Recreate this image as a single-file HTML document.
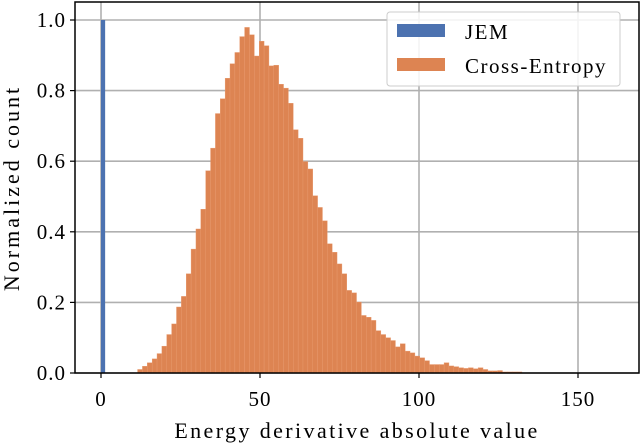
<!DOCTYPE html>
<html><head><meta charset="utf-8"><style>
html,body{margin:0;padding:0;background:#fff}
svg{display:block;font-family:"Liberation Serif",serif}
</style></head><body>
<svg id="chart" width="640" height="443" viewBox="0 0 640 443"></svg>
<script>
// Data
const ceStart = 11.5;
const ceBinWidth = 1.53;
const ceCounts = [0.010,0.019,0.029,0.040,0.055,0.076,0.109,0.139,0.187,0.217,0.281,0.351,0.408,0.464,0.573,0.637,0.735,0.777,0.835,0.876,0.908,0.953,0.979,0.958,0.898,0.940,0.927,0.870,0.872,0.818,0.807,0.764,0.689,0.665,0.599,0.578,0.502,0.469,0.431,0.366,0.342,0.309,0.281,0.234,0.227,0.201,0.163,0.158,0.149,0.120,0.109,0.100,0.092,0.074,0.083,0.062,0.057,0.048,0.043,0.035,0.024,0.024,0.024,0.029,0.020,0.018,0.015,0.013,0.015,0.012,0.015,0.010,0.006,0.006,0.007,0.003,0.003,0.003,0.003];
const jemStart = 0;
const jemWidth = 1.3;
const jemCounts = [1.0];
const xTicks = [0,50,100,150];
const yTicks = [0.0,0.2,0.4,0.6,0.8,1.0];
const yTickLabels = ["0.0","0.2","0.4","0.6","0.8","1.0"];

const svg = document.getElementById('chart');
const NS = 'http://www.w3.org/2000/svg';
const L=75,R=639,T=2,B=373;
const xs = v => 101 + v*3.18;
const ys = v => 373 - v*353;
function mk(tag, attrs){const e=document.createElementNS(NS,tag);for(const k in attrs)e.setAttribute(k,attrs[k]);svg.appendChild(e);return e;}

xTicks.forEach(t=>{
  const g=mk('line',{x1:xs(t),x2:xs(t),y1:T,y2:B,stroke:'#b0b0b0','stroke-width':1.6});
  
  
});
yTicks.forEach(t=>{
  const g=mk('line',{x1:L,x2:R,y1:ys(t),y2:ys(t),stroke:'#b0b0b0','stroke-width':1.6});
  
  
});

jemCounts.forEach((c,i)=>{
  const x0=xs(jemStart+i*jemWidth), x1=xs(jemStart+(i+1)*jemWidth);
  const r=mk('rect',{x:x0,y:ys(c),width:x1-x0,height:ys(0)-ys(c),fill:'#4c72b0'});
  
  
});
ceCounts.forEach((c,i)=>{
  const x0=xs(ceStart+i*ceBinWidth), x1=xs(ceStart+(i+1)*ceBinWidth);
  const r=mk('rect',{x:x0,y:ys(c),width:x1-x0,height:ys(0)-ys(c),fill:'#dd8452',stroke:'#e89a6e','stroke-width':0.4});
  
  
});

const f=mk('rect',{x:L,y:T,width:R-L,height:B-T,fill:'none',stroke:'#000','stroke-width':1.5});



xTicks.forEach(t=>{
  const tk=mk('line',{x1:xs(t),x2:xs(t),y1:B,y2:B+5,stroke:'#000','stroke-width':1.2});
  
  
  const tx=mk('text',{x:xs(t),y:406,'font-size':21,'text-anchor':'middle','letter-spacing':1,fill:'#000'});
  tx.textContent=String(t);
  
  
});
yTicks.forEach((t,i)=>{
  const tk=mk('line',{x1:L-5,x2:L,y1:ys(t),y2:ys(t),stroke:'#000','stroke-width':1.2});
  
  
  const tx=mk('text',{x:L-9,y:ys(t)+7,'font-size':21,'text-anchor':'end','letter-spacing':1,fill:'#000'});
  tx.textContent=yTickLabels[i];
  
  
});
</script>
<script>
(function(){
const svg=document.getElementById('chart');const NS='http://www.w3.org/2000/svg';
function mk(tag,a){const e=document.createElementNS(NS,tag);for(const k in a)e.setAttribute(k,a[k]);svg.appendChild(e);return e;}
const xl=mk('text',{x:357,y:438,'font-size':22,'text-anchor':'middle','letter-spacing':2.4});
xl.textContent='Energy derivative absolute value';


const yl=mk('text',{x:0,y:0,'font-size':22,'text-anchor':'middle','letter-spacing':3,transform:'translate(19,188) rotate(-90)'});
yl.textContent='Normalized count';


const lg=mk('rect',{x:387,y:12,width:233,height:74,rx:3,fill:'#fff','fill-opacity':0.85,stroke:'#cccccc','stroke-width':1});


const p1=mk('rect',{x:397,y:24,width:48,height:13,fill:'#4c72b0'});


const t1=mk('text',{x:465,y:39,'font-size':21,'letter-spacing':1.5});t1.textContent='JEM';


const p2=mk('rect',{x:397,y:58,width:48,height:13,fill:'#dd8452'});


const t2=mk('text',{x:465,y:73,'font-size':21,'letter-spacing':1.5});t2.textContent='Cross-Entropy';


})();
</script>
</body></html>
